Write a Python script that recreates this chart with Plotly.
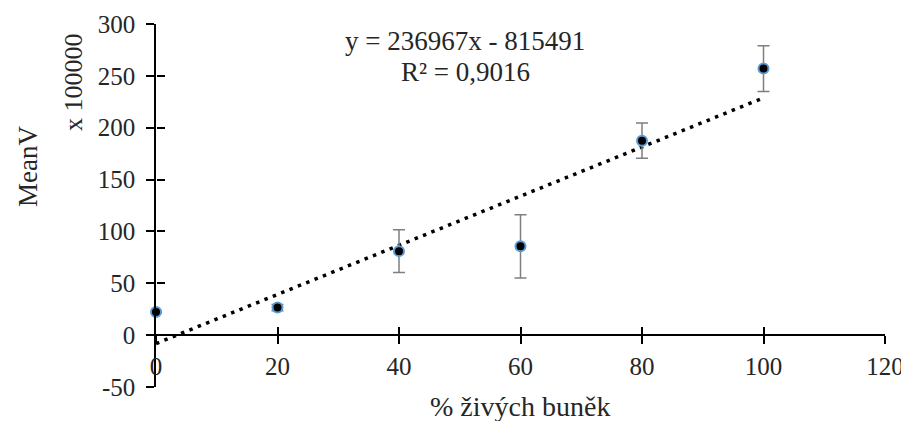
import plotly.graph_objects as go

# Data (values in units of 100000)
pct_live = [0, 20, 40, 60, 80, 100]
mean_v = [22.4, 26.6, 81.0, 85.6, 187.5, 257.0]
mean_v_err = [1.0, 3.0, 20.6, 30.5, 17.0, 22.0]

# Linear trendline as shown on chart: y = 236967x - 815491 (÷100000)
trend_slope = 2.36967
trend_intercept = -8.15491
trend_x = [0, 100]
trend_y = [trend_slope * x + trend_intercept for x in trend_x]

x_ticks = [0, 20, 40, 60, 80, 100, 120]
y_ticks = [-50, 0, 50, 100, 150, 200, 250, 300]
y_tick_text = ["-50", "0", "50", "100", "150", "200", "250", "300"]

FONT = "Liberation Serif"
OFF = 8  # default page body margin
W, H = 909 - OFF, 421 - OFF
L, T = 156 - OFF, 24 - OFF
R = W - (885 - OFF)
B = H - (387 - OFF)
pw, ph = W - L - R, H - T - B

def px_x(p):
    return (p - OFF - L) / pw

def px_y(p):
    return (H - B - (p - OFF)) / ph

fig = go.Figure()

fig.add_trace(go.Scatter(
    x=trend_x, y=trend_y, mode="lines",
    line=dict(color="black", width=3.5, dash="3.5px,5.5px"),
    hoverinfo="skip", showlegend=False,
))

fig.add_trace(go.Scatter(
    x=pct_live, y=mean_v, mode="markers",
    marker=dict(color="black", size=10, line=dict(color="#5B9BD5", width=2)),
    error_y=dict(type="data", array=mean_v_err, visible=True,
                 color="#7F7F7F", thickness=1.5, width=6),
    showlegend=False, cliponaxis=False,
))

# invisible trace for overlay axes (crossing tick marks)
fig.add_trace(go.Scatter(x=[], y=[], xaxis="x2", yaxis="y2",
                         showlegend=False, hoverinfo="skip"))

yzero_pos = (0 - y_ticks[0]) / (y_ticks[-1] - y_ticks[0])

axis_common = dict(showgrid=False, zeroline=False, linecolor="black",
                   tickcolor="black", tickwidth=1.5, ticklen=8,
                   automargin=False)

fig.update_layout(
    width=W, height=H,
    margin=dict(l=L, r=R, t=T, b=B),
    paper_bgcolor="white", plot_bgcolor="white",
    font=dict(family=FONT, size=25, color="#262626"),
    xaxis=dict(range=[0, 120], tickvals=x_ticks, anchor="free",
               position=yzero_pos, showline=True, linewidth=1.5,
               ticks="outside", ticklabelstandoff=1,
               tickfont=dict(family=FONT, size=25, color="#262626"),
               **axis_common),
    xaxis2=dict(range=[0, 120], tickvals=x_ticks, overlaying="x",
                anchor="free", position=yzero_pos, showline=False,
                ticks="inside", showticklabels=False, **axis_common),
    yaxis=dict(range=[-50, 300], tickvals=y_ticks, ticktext=y_tick_text,
               anchor="x", showline=True, linewidth=1.5, ticks="outside",
               ticklabelstandoff=6,
               tickfont=dict(family=FONT, size=25, color="#262626"),
               **axis_common),
    yaxis2=dict(range=[-50, 300], tickvals=y_ticks, overlaying="y",
                anchor="free", position=0, showline=False,
                ticks="inside", showticklabels=False, **axis_common),
    annotations=[
        dict(text="% živých buněk", xref="paper", yref="paper",
             x=px_x(520), y=px_y(406), showarrow=False,
             xanchor="center", yanchor="middle",
             font=dict(family=FONT, size=28, color="#262626")),
        dict(text="MeanV", xref="paper", yref="paper",
             x=px_x(28), y=px_y(167), showarrow=False, textangle=-90,
             xanchor="center", yanchor="middle",
             font=dict(family=FONT, size=27, color="#262626")),
        dict(text="x 100000", xref="paper", yref="paper",
             x=px_x(74), y=px_y(82), showarrow=False, textangle=-90,
             xanchor="center", yanchor="middle",
             font=dict(family=FONT, size=26, color="#262626")),
        dict(text="y = 236967x - 815491", xref="paper", yref="paper",
             x=px_x(465), y=px_y(41), showarrow=False,
             xanchor="center", yanchor="middle",
             font=dict(family=FONT, size=27, color="#262626")),
        dict(text="R² = 0,9016", xref="paper", yref="paper",
             x=px_x(465), y=px_y(72), showarrow=False,
             xanchor="center", yanchor="middle",
             font=dict(family=FONT, size=27, color="#262626")),
    ],
)

fig.write_html("out.html")
